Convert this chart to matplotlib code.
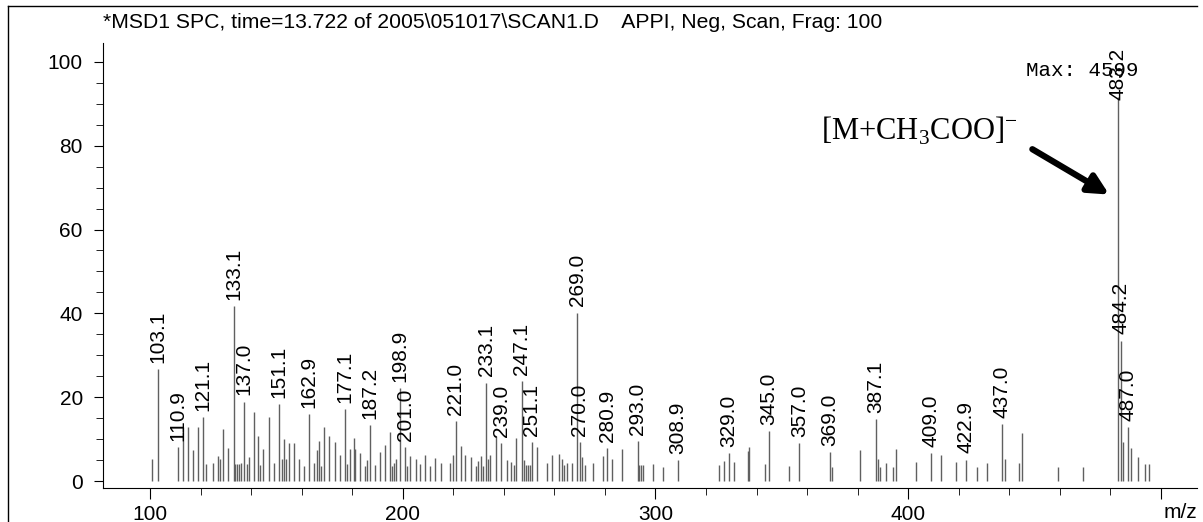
import matplotlib
matplotlib.use('Agg')
import matplotlib.pyplot as plt
from matplotlib.lines import Line2D
from matplotlib.ticker import MultipleLocator

# peak positions (m/z) and relative abundance
mz = [100.9, 103.1, 110.9, 112.9, 114.9, 116.9, 118.9, 121.1, 122.0, 124.8,
      127.0, 127.8, 128.8, 131.0, 133.1, 133.8, 134.5, 135.2, 136.0, 137.0,
      138.3, 139.1, 141.0, 142.9, 143.7, 144.9, 147.0, 149.0, 151.1, 152.2,
      153.0, 153.8, 155.0, 157.0, 159.1, 160.9, 162.9, 164.8, 166.0, 166.8,
      167.8, 169.0, 171.0, 173.1, 175.2, 177.1, 178.0, 179.0, 180.7, 181.2,
      183.1, 185.1, 186.0, 187.2, 188.9, 191.0, 193.0, 195.0, 195.9, 196.6,
      197.2, 198.9, 201.0, 201.8, 203.0, 205.1, 206.9, 209.0, 210.9, 212.9,
      215.0, 218.8, 219.9, 221.0, 223.0, 224.8, 226.9, 229.0, 229.9, 231.0,
      231.9, 233.1, 233.9, 234.7, 236.8, 239.0, 241.1, 242.8, 243.9, 244.8,
      247.1, 248.1, 248.9, 249.6, 250.3, 251.1, 253.2, 257.0, 259.0, 262.0,
      263.0, 263.8, 264.9, 267.0, 269.0, 270.0, 271.1, 272.0, 275.2, 279.1,
      280.9, 282.9, 286.9, 293.0, 293.6, 294.3, 294.9, 299.0, 303.1, 308.9,
      325.2, 327.1, 329.0, 331.1, 336.8, 337.2, 343.4, 345.0, 352.9, 357.0,
      369.0, 370.0, 381.0, 387.1, 388.0, 389.0, 391.1, 394.1, 395.2, 403.1,
      409.0, 412.9, 419.1, 422.9, 427.1, 431.4, 437.0, 438.2, 444.0, 445.1,
      459.2, 469.2, 483.2, 484.2, 485.0, 487.0, 488.1, 491.1, 493.9, 495.3]
abundance = [5.2, 26.7, 8.0, 12.8, 12.8, 7.5, 12.8, 15.2, 4.1, 4.2,
             5.9, 5.3, 12.3, 7.8, 41.8, 4.1, 4.1, 4.1, 4.2, 18.9,
             4.1, 5.8, 16.4, 10.8, 3.9, 7.6, 15.2, 4.4, 18.4, 5.3,
             10.1, 5.3, 9.0, 9.0, 5.2, 3.6, 16.0, 4.4, 7.4, 9.5,
             3.6, 12.8, 10.7, 9.3, 6.2, 17.2, 4.1, 7.7, 10.2, 7.7,
             6.6, 3.6, 5.0, 13.4, 3.9, 7.0, 8.7, 11.6, 3.6, 4.2,
             5.2, 22.1, 8.0, 3.6, 5.9, 5.3, 4.1, 6.2, 3.6, 5.6,
             4.2, 4.2, 6.2, 14.2, 8.4, 6.2, 5.8, 3.6, 4.7, 5.9,
             3.6, 23.5, 5.2, 6.2, 10.8, 9.1, 4.9, 4.5, 3.8, 10.2,
             23.9, 4.9, 3.7, 3.7, 3.8, 9.3, 8.0, 4.4, 6.1, 6.5,
             5.3, 3.8, 4.4, 4.4, 40.2, 9.3, 5.8, 3.8, 4.4, 5.9,
             7.9, 5.2, 7.6, 9.5, 3.8, 3.9, 3.8, 4.0, 3.4, 5.0,
             3.9, 4.8, 6.6, 4.6, 7.2, 8.2, 4.1, 11.9, 3.6, 9.0,
             6.8, 3.3, 7.4, 14.7, 5.2, 3.4, 4.3, 3.4, 7.6, 4.6,
             6.7, 6.1, 4.6, 5.1, 3.4, 4.3, 13.6, 5.2, 4.3, 11.4,
             3.3, 3.3, 91.7, 33.5, 9.3, 12.8, 7.8, 5.8, 4.0, 4.0]

# peaks that carry an m/z label
labelled = [103.1, 110.9, 121.1, 133.1, 137.0, 151.1, 162.9, 177.1, 187.2,
            198.9, 201.0, 221.0, 233.1, 239.0, 247.1, 251.1, 269.0, 270.0,
            280.9, 293.0, 308.9, 329.0, 345.0, 357.0, 369.0, 387.1, 409.0,
            422.9, 437.0, 483.2, 484.2, 487.0]

title = "*MSD1 SPC, time=13.722 of 2005\\051017\\SCAN1.D    APPI, Neg, Scan, Frag: 100"

plt.rcParams['font.family'] = ['Liberation Sans', 'DejaVu Sans']
plt.rcParams['mathtext.fontset'] = 'custom'
plt.rcParams['mathtext.rm'] = 'Liberation Serif'

fig = plt.figure(figsize=(12.03, 5.22), dpi=100)
W, H = 1203, 522
ax = fig.add_axes([103 / W, 1 - 488 / H, (1197 - 103) / W, (488 - 43) / H])

ax.vlines(mz, 0, abundance, color='#606060', linewidth=1.0)

ymax = 104.5
for m in labelled:
    h = abundance[mz.index(m)]
    y = min(h + 1.5, ymax - 13.5)  # keep label inside the plot
    ax.text(m, y, f"{m:.1f}", rotation=90, ha='center', va='bottom', fontsize=15)

ax.set_xlim(81.4, 514.3)
ax.set_ylim(-1.67, ymax)
ax.spines['top'].set_visible(False)
ax.spines['right'].set_visible(False)
ax.xaxis.set_minor_locator(MultipleLocator(20))
ax.yaxis.set_major_locator(MultipleLocator(20))
ax.yaxis.set_minor_locator(MultipleLocator(5))
ax.set_xticks([100, 200, 300, 400, 500])
ax.set_xticklabels(['100', '200', '300', '400', ''])
ax.tick_params(axis='x', which='major', length=8, labelsize=15, pad=4)
ax.tick_params(axis='x', which='minor', length=5)
ax.tick_params(axis='y', which='major', length=6.5, labelsize=15, pad=8)
ax.tick_params(axis='y', which='minor', length=5)
ax.text(1.0, -0.033, 'm/z', transform=ax.transAxes, ha='right', va='top', fontsize=15)

fig.text(103 / W, 1 - 22 / H, title, ha='left', va='center', fontsize=15.2)
ax.text(1138 / W, 1 - 70 / H, 'Max: 4599', transform=fig.transFigure,
        ha='right', va='center', fontsize=15, family='Liberation Mono')

ax.text(404.5, 81.4, r'[M+CH$_3$COO]$^{-}$', ha='center', va='baseline',
        fontsize=22, family='Liberation Serif')
ax.annotate('', xy=(480.5, 68.0), xytext=(448.2, 79.5),
            arrowprops=dict(arrowstyle='-|>', lw=4.5, color='black', mutation_scale=30))

# frame around the figure (top and left edges only)
fig.add_artist(Line2D([8 / W, 1197 / W], [1 - 6 / H, 1 - 6 / H], color='black', lw=1))
fig.add_artist(Line2D([8 / W, 8 / W], [0, 1 - 6 / H], color='black', lw=1))

fig.savefig('out.png', dpi=100)
